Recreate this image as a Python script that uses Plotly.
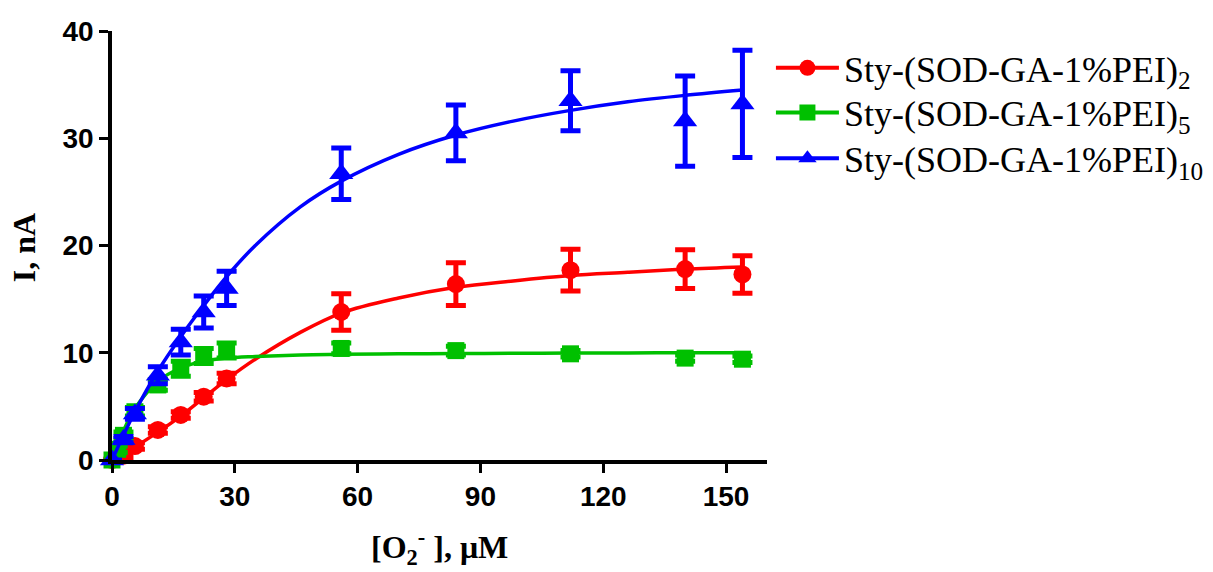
import plotly.graph_objects as go

# ---- data ----
red_x = [0, 2.8, 5.6, 11.2, 16.8, 22.4, 28, 56, 84, 112, 140, 154]
red_y = [0, 0.4, 1.3, 2.8, 4.2, 5.9, 7.6, 13.8, 16.4, 17.7, 17.8, 17.3]
red_err = [0, 0.2, 0.3, 0.3, 0.3, 0.4, 0.5, 1.7, 2.0, 1.95, 1.8, 1.75]

green_x = [0, 1.4, 2.8, 5.6, 11.2, 16.8, 22.4, 28, 56, 84, 112, 140, 154]
green_y = [0, 1.0, 2.3, 4.5, 7.0, 8.5, 9.7, 10.2, 10.4, 10.2, 9.9, 9.5, 9.4]
green_err = [0.3, 0.3, 0.3, 0.4, 0.5, 0.7, 0.7, 0.7, 0.5, 0.4, 0.3, 0.3, 0.3]

blue_x = [0, 2.8, 5.6, 11.2, 16.8, 22.4, 28, 56, 84, 112, 140, 154]
blue_y = [0, 1.9, 4.3, 7.9, 11.0, 13.8, 16.0, 26.7, 30.5, 33.5, 31.6, 33.2]
blue_err = [0, 0.3, 0.5, 0.8, 1.2, 1.5, 1.6, 2.4, 2.6, 2.8, 4.2, 5.0]

curve_x = [0, 2.8, 5.6, 11.2, 16.8, 22.4, 28, 35, 46, 56, 70, 84, 98, 112, 126, 140, 154]
red_curve_y = [0, 0.5, 1.2, 2.6, 4.1, 5.8, 7.5, 9.4, 11.9, 13.7, 15.1, 16.1, 16.7, 17.2, 17.5, 17.8, 18.0]
green_curve_y = [0, 2.7, 4.8, 7.3, 8.6, 9.2, 9.5, 9.65, 9.8, 9.85, 9.9, 9.93, 9.95, 9.97, 9.98, 10.0, 10.0]
blue_curve_y = [0, 2.3, 4.5, 8.3, 11.5, 14.4, 17.1, 20.0, 23.6, 26.0, 28.5, 30.3, 31.6, 32.6, 33.4, 34.0, 34.5]

names = ["Sty-(SOD-GA-1%PEI)<sub>2</sub>",
         "Sty-(SOD-GA-1%PEI)<sub>5</sub>",
         "Sty-(SOD-GA-1%PEI)<sub>10</sub>"]

x_ticks = [0, 30, 60, 90, 120, 150]
y_ticks = [0, 10, 20, 30, 40]

x_title = "[O<sub>2</sub><sup>-</sup> ], μM"
y_title = "I, nA"

RED, GREEN, BLUE = "#FF0000", "#00C000", "#0000FF"

series = [
    (red_x, red_y, red_err, red_curve_y, RED, "circle", 18),
    (green_x, green_y, green_err, green_curve_y, GREEN, "square", 17),
    (blue_x, blue_y, blue_err, blue_curve_y, BLUE, "triangle-up", 21),
]

fig = go.Figure()

for xs, ys, es, cy, col, sym, sz in series:
    fig.add_trace(go.Scatter(
        x=curve_x, y=cy, mode="lines", line=dict(color=col, width=3.5, shape="spline"),
        showlegend=False, hoverinfo="skip", cliponaxis=False))
    fig.add_trace(go.Scatter(
        x=xs, y=ys, mode="markers",
        marker=dict(color=col, symbol=sym, size=sz, line=dict(width=0)),
        error_y=dict(type="data", array=es, visible=True, color=col, thickness=5, width=10),
        showlegend=False, cliponaxis=False))

legend_ids = ["legend", "legend2", "legend3"]
for i, (xs, ys, es, cy, col, sym, sz) in enumerate(series):
    fig.add_trace(go.Scatter(
        x=[None], y=[None], mode="lines+markers", name=names[i],
        legend=legend_ids[i],
        line=dict(color=col, width=4),
        marker=dict(color=col, symbol=sym, size=16)))

leg_style = dict(x=1.006, xanchor="left", yanchor="middle",
                 font=dict(family="Liberation Serif", size=36, color="black"),
                 bgcolor="rgba(0,0,0,0)", itemwidth=63)

title_font = dict(family="Liberation Serif", size=32, color="black", weight="bold")

fig.update_layout(
    width=1205, height=564,
    margin=dict(l=104, r=446, t=23, b=112, autoexpand=False),
    plot_bgcolor="white", paper_bgcolor="white",
    showlegend=True,
    legend=dict(y=0.914, **leg_style),
    legend2=dict(y=0.81, **leg_style),
    legend3=dict(y=0.703, **leg_style),
    xaxis=dict(range=[0, 160], tickvals=x_ticks, ticktext=[str(v) for v in x_ticks],
               automargin=False,
               showgrid=False, zeroline=False, showline=True, linecolor="black", linewidth=3.5,
               ticks="outside", ticklen=9, tickwidth=3, tickcolor="black",
               tickfont=dict(family="Liberation Sans", size=28, color="black", weight="bold")),
    yaxis=dict(range=[0, 40], tickvals=y_ticks, ticktext=[str(v) for v in y_ticks],
               automargin=False,
               showgrid=False, zeroline=False, showline=True, linecolor="black", linewidth=3.5,
               ticks="outside", ticklen=9, tickwidth=3, tickcolor="black",
               tickfont=dict(family="Liberation Sans", size=28, color="black", weight="bold")),
    annotations=[
        dict(text=y_title, xref="paper", yref="paper", x=-0.134, y=0.494,
             xanchor="center", yanchor="middle", textangle=-90, showarrow=False,
             font=title_font),
        dict(text=x_title, xref="paper", yref="paper", x=0.5, y=-0.205,
             xanchor="center", yanchor="middle", showarrow=False,
             font=title_font),
    ],
)

fig.write_html("out.html")
